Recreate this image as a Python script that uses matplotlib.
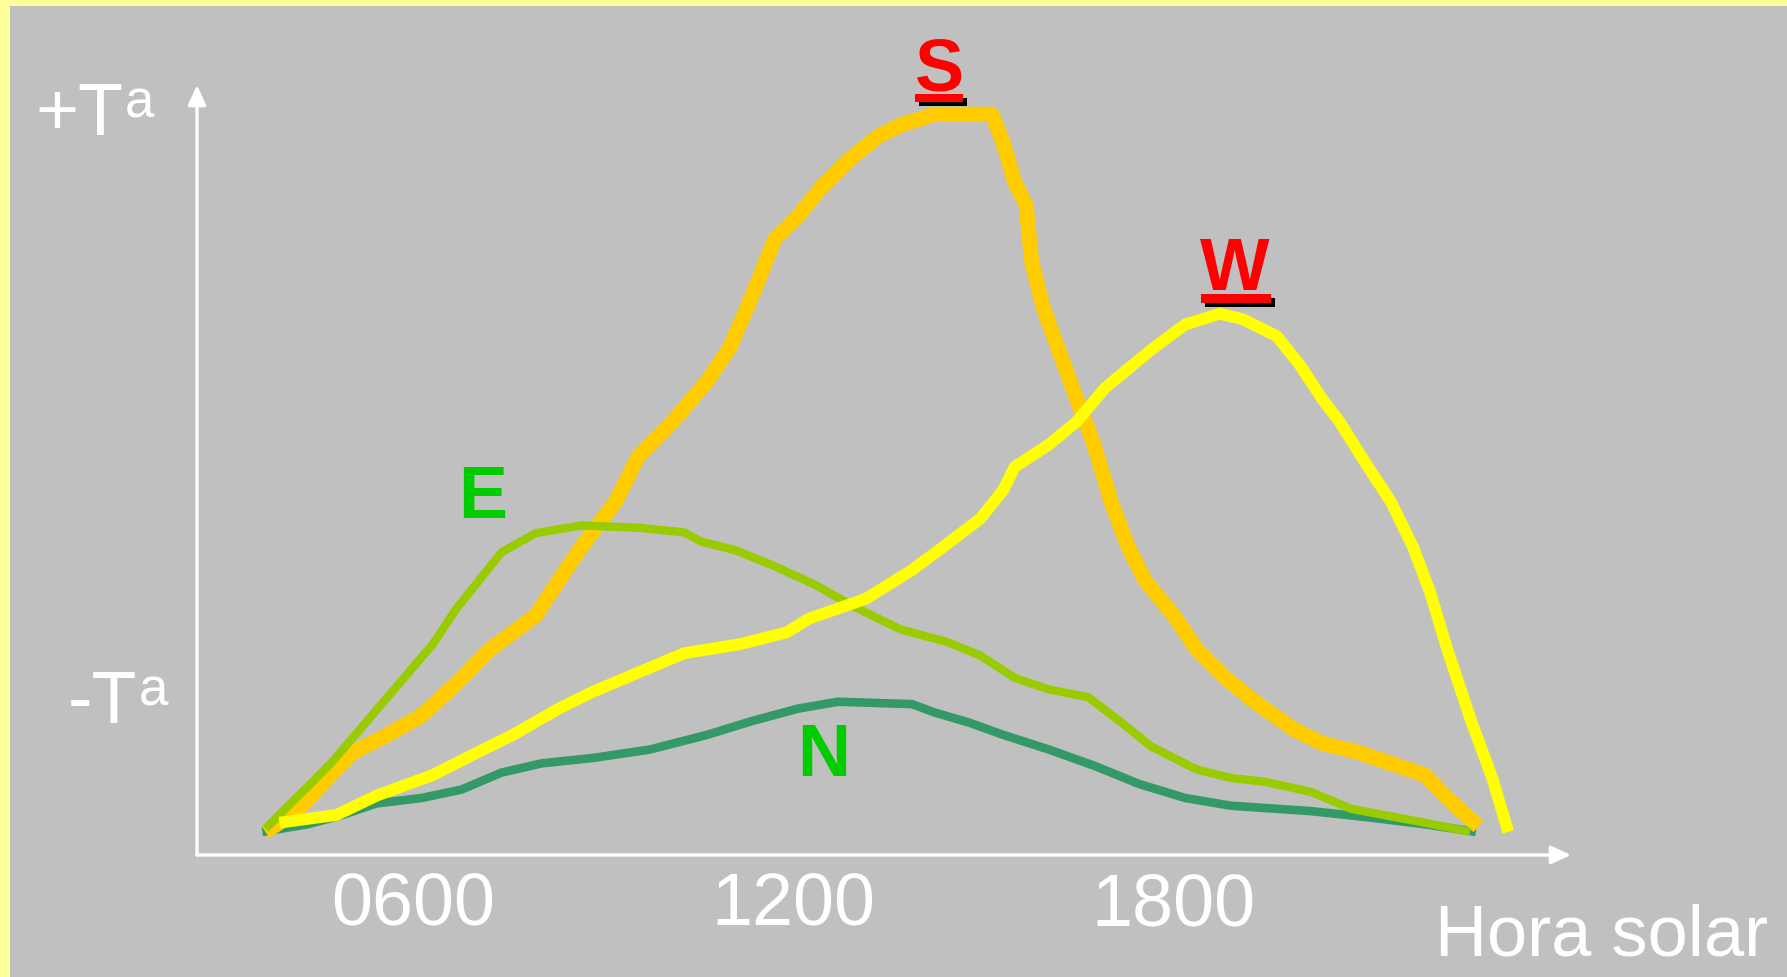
import matplotlib.pyplot as plt
from matplotlib.patches import Rectangle

plt.rcParams['font.family'] = ['Liberation Sans', 'DejaVu Sans']

W, H = 1787, 977

# hours (solar time) and relative temperature
s_hora = [3.68, 4.17, 4.71, 5.07, 5.60, 6.14, 6.68, 7.22, 7.94, 8.30, 8.66, 9.20, 9.56, 10.10,
          10.64, 11.00, 11.35, 11.71, 12.07, 12.43, 12.88, 13.33, 13.69, 14.23, 14.77, 15.13,
          15.31, 15.49, 15.67, 15.76, 15.94, 16.20, 16.47, 16.74, 17.01, 17.28, 17.55, 18.00,
          18.36, 18.81, 19.26, 19.89, 20.34, 20.88, 21.95, 22.31, 22.80]
s_temp = [3.0, 5.7, 10.4, 13.4, 15.6, 18.1, 22.2, 26.7, 31.1, 35.6, 40.0, 45.9, 51.8, 56.3,
          61.5, 65.9, 72.6, 80.0, 82.9, 86.6, 90.3, 93.3, 94.8, 96.2, 96.2, 96.2,
          92.5, 87.4, 84.4, 77.0, 71.1, 65.2, 59.2, 53.3, 45.9, 40.0, 35.6, 31.1,
          26.7, 23.0, 20.0, 16.3, 14.5, 13.4, 10.4, 7.4, 3.7]

w_hora = [3.90, 4.80, 5.43, 6.32, 7.04, 7.58, 8.30, 8.84, 9.56, 10.28, 11.17, 11.89, 12.25,
          13.15, 13.87, 14.41, 14.95, 15.31, 15.49, 16.03, 16.47, 16.92, 17.64, 18.18, 18.72,
          19.08, 19.62, 19.98, 20.34, 20.61, 21.06, 21.42, 21.77, 22.04, 22.31, 22.67, 23.03, 23.27]
w_temp = [4.2, 5.2, 7.7, 10.4, 13.4, 15.6, 19.0, 21.2, 23.7, 26.2, 27.4, 28.9, 30.7,
          33.3, 37.0, 40.3, 43.7, 47.4, 50.4, 53.3, 56.3, 60.7, 65.6, 68.9, 70.3,
          69.6, 67.4, 63.7, 59.2, 56.3, 50.4, 45.9, 40.0, 34.1, 26.7, 17.8, 9.7, 3.0]

e_hora = [3.68, 3.99, 4.35, 4.71, 5.25, 5.78, 6.32, 6.68, 7.04, 7.40, 7.94, 8.66, 9.56, 10.28,
          10.55, 11.08, 11.71, 12.34, 12.97, 13.69, 14.41, 14.95, 15.49, 16.03, 16.65, 17.19,
          17.64, 18.36, 18.90, 19.44, 20.16, 20.79, 21.95, 22.67]
e_temp = [3.4, 6.0, 8.9, 11.9, 17.1, 22.2, 27.4, 31.9, 35.6, 39.3, 41.8, 42.8, 42.5, 41.9,
          40.7, 39.6, 37.5, 35.1, 32.2, 29.3, 27.7, 25.9, 23.0, 21.5, 20.5, 17.1,
          14.1, 11.1, 10.0, 9.5, 8.2, 6.0, 4.2, 3.0]

n_hora = [3.63, 4.35, 4.89, 5.43, 6.14, 6.77, 7.40, 8.03, 8.84, 9.74, 10.64, 11.35, 12.07,
          12.70, 13.87, 14.23, 14.77, 15.31, 16.03, 16.74, 17.46, 18.18, 18.90, 20.16, 21.06,
          21.95, 22.76]
n_temp = [3.0, 4.0, 5.2, 6.7, 7.4, 8.5, 10.7, 11.9, 12.6, 13.7, 15.6, 17.4, 19.0,
          19.9, 19.6, 18.5, 17.2, 15.6, 13.7, 11.6, 9.2, 7.4, 6.4, 5.7, 4.9,
          4.0, 3.0]

ticks = [6, 12, 18]
tick_labels = ['0600', '1200', '1800']


def fx(x):
    return x / W


def fy(y):
    return 1 - y / H


fig = plt.figure(figsize=(W / 100, H / 100), dpi=100, facecolor='#FFFF99')
fig.patches.append(Rectangle((fx(10), 0), 1, fy(6), transform=fig.transFigure,
                             facecolor='#C0C0C0', edgecolor='none', zorder=-10))

# axes box: from the y-axis line to the x arrow tip, from x-axis to y arrow tip
ax = fig.add_axes([fx(197), fy(855), (1571 - 197) / W, (855 - 85) / H])
ax.set_facecolor('none')
ax.set_xlim(2.60, 24.26)
ax.set_ylim(0, 100)
for sp in ax.spines.values():
    sp.set_visible(False)
ax.set_xticks([])
ax.set_yticks([])

arrow = dict(arrowstyle='-|>,head_length=1.2,head_width=0.55', color='white', lw=2.4,
             shrinkA=0, shrinkB=0)
ax.annotate('', xy=(0, 1), xytext=(0, 0), xycoords='axes fraction', arrowprops=arrow)
ax.annotate('', xy=(1, 0), xytext=(0, 0), xycoords='axes fraction', arrowprops=arrow)

line = dict(solid_capstyle='butt', solid_joinstyle='round')
ax.plot(n_hora, n_temp, color='#339966', lw=6.2, zorder=2, **line)
ax.plot(s_hora, s_temp, color='#FFCC00', lw=10.8, zorder=3, **line)
ax.plot(e_hora, e_temp, color='#99CC00', lw=6.0, zorder=4, **line)
ax.plot(w_hora, w_temp, color='#FFFF00', lw=8.5, zorder=5, **line)

lab = dict(fontsize=53, fontweight='bold', ha='center', va='baseline')
ax.text(14.31, 99.2, 'S', color='red', **lab)
ax.text(18.96, 73.4, 'W', color='red', **lab)
ax.text(7.11, 43.8, 'E', color='#00CC00', **lab)
ax.text(12.48, 10.3, 'N', color='#00CC00', **lab)

# underlines under S and W with a black shadow
for x0, x1, y0, y1 in [(915, 963, 94, 102), (1201, 1271, 294, 303)]:
    fig.patches.append(Rectangle((fx(x0 + 4), fy(y1 + 4)), (x1 - x0) / W, (y1 - y0) / H,
                                 transform=fig.transFigure, facecolor='black', zorder=5))
    fig.patches.append(Rectangle((fx(x0), fy(y1)), (x1 - x0) / W, (y1 - y0) / H,
                                 transform=fig.transFigure, facecolor='red', zorder=6))

for t, l in zip(ticks, tick_labels):
    fig.text(ax.transData.transform((t, 0))[0] / W, fy(925), l, color='white',
             fontsize=53, ha='center', va='baseline')

fig.text(fx(1435), fy(955), 'Hora solar', color='white', fontsize=52, ha='left', va='baseline')

# "+Ta" / "-Ta" with a superscript a
for x, y, s in [(35, 135, '+T'), (68, 723, '-T')]:
    t = fig.text(fx(x), fy(y), s, color='white', fontsize=53, ha='left', va='baseline')
    ax.annotate('a', xy=(1, 1), xycoords=t, xytext=(1, 2), textcoords='offset points',
                color='white', fontsize=38, ha='left', va='top', annotation_clip=False)

fig.savefig('out.png', dpi=100, facecolor=fig.get_facecolor())
